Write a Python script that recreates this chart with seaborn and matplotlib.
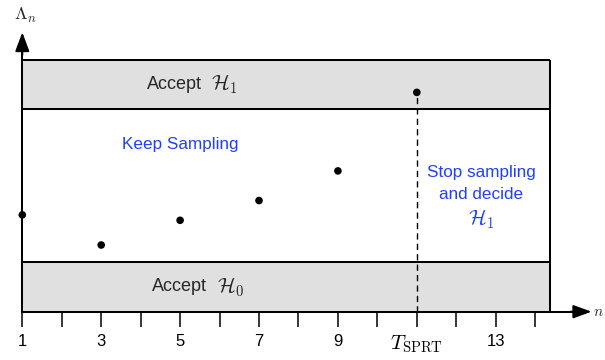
import matplotlib
matplotlib.use("Agg")
import matplotlib.pyplot as plt
import seaborn as sns
import pandas as pd

# Sequential probability ratio test: log-likelihood ratio per sample
steps = [1, 3, 5, 7, 9, 11]
llr = [1.96, 1.35, 1.85, 2.25, 2.85, 4.44]

lower_threshold = 1.0      # below -> accept H0
upper_threshold = 4.10     # above -> accept H1
band_top = 5.09
stop_step = 11

tick_positions = list(range(1, 15))
tick_labels = ["1", "", "3", "", "5", "", "7", "", "9", "",
               r"$T_{\mathrm{SPRT}}$", "", "13", ""]

sns.set_theme(style="white")
plt.rcParams["font.family"] = ["Liberation Sans", "DejaVu Sans"]
plt.rcParams["mathtext.fontset"] = "cm"
plt.rcParams["lines.scale_dashes"] = False

fig = plt.figure(figsize=(6.05, 3.6), dpi=100)
ax = fig.add_axes([0, 0, 1, 1])
ax.set_xlim(0.4347, 15.770)
ax.set_ylim(-0.978, 6.31)
ax.patch.set_alpha(0)

x_right = 14.376
band_lw = 1.45
gray = "#e0e0e0"
blue = "#1f3fff"
math_size = 15

# decision regions
ax.fill_between([1, x_right], 0, lower_threshold, color=gray, lw=0, zorder=1)
ax.fill_between([1, x_right], upper_threshold, band_top, color=gray, lw=0, zorder=1)
ax.hlines([lower_threshold, upper_threshold, band_top], 1, x_right,
          colors="black", lw=band_lw, zorder=2)
ax.vlines(x_right, 0, band_top, colors="black", lw=band_lw, zorder=2)

# axes as arrows
for side in ["top", "right"]:
    ax.spines[side].set_visible(False)
ax.spines["bottom"].set_position(("data", 0))
ax.spines["bottom"].set_bounds(1, 15.1)
ax.spines["left"].set_position(("data", 1))
ax.spines["left"].set_bounds(0, 5.4)
for side in ["bottom", "left"]:
    ax.spines[side].set_linewidth(band_lw)
    ax.spines[side].set_color("black")
    ax.spines[side].set_zorder(3)
ax.annotate("", xy=(15.43, 0), xytext=(14.9, 0),
            arrowprops=dict(arrowstyle="-|>,head_length=1.1,head_width=0.4",
                            mutation_scale=10, lw=band_lw, color="black",
                            shrinkA=0, shrinkB=0))
ax.annotate("", xy=(1, 5.656), xytext=(1, 5.2),
            arrowprops=dict(arrowstyle="-|>,head_length=1.15,head_width=0.43",
                            mutation_scale=10, lw=band_lw, color="black",
                            shrinkA=0, shrinkB=0))

ax.set_xticks(tick_positions)
ax.set_xticklabels(tick_labels, fontsize=12)
ax.get_xticklabels()[10].set_fontsize(math_size)
ax.set_yticks([])
ax.tick_params(axis="x", direction="out", length=10.8, width=1.1,
               pad=5, colors="black", bottom=True)

# stopping time
ax.plot([stop_step, stop_step], [0, llr[-1]], color="black", lw=1.0,
        dashes=(4.5, 3), zorder=4)

df = pd.DataFrame({"n": steps, "llr": llr})
sns.scatterplot(data=df, x="n", y="llr", ax=ax, color="black", s=30,
                edgecolor="none", zorder=5, legend=False)
ax.set_xlabel("")
ax.set_ylabel("")

upper_mid = (upper_threshold + band_top) / 2
lower_mid = lower_threshold / 2
ax.text(5.555, upper_mid, "Accept", fontsize=13, ha="right", va="center", zorder=6)
ax.text(5.78, upper_mid, r"$\mathcal{H}_1$", fontsize=math_size,
        ha="left", va="center", zorder=6)
ax.text(5.68, lower_mid, "Accept", fontsize=13, ha="right", va="center", zorder=6)
ax.text(5.93, lower_mid, r"$\mathcal{H}_0$", fontsize=math_size,
        ha="left", va="center", zorder=6)

ax.text(5.0, 3.39, "Keep Sampling", color=blue, fontsize=12.3,
        ha="center", va="center")
ax.text(12.63, 2.81, "Stop sampling", color=blue, fontsize=12.3,
        ha="center", va="center")
ax.text(12.63, 2.37, "and decide", color=blue, fontsize=12.3,
        ha="center", va="center")
ax.text(12.63, 1.88, r"$\mathcal{H}_1$", color=blue, fontsize=math_size,
        ha="center", va="center")

ax.text(1.07, 6.0, r"$\Lambda_n$", fontsize=13, ha="center", va="center")
ax.text(15.47, 0, r"$n$", fontsize=11, ha="left", va="center")

fig.savefig("out.png", dpi=100)
